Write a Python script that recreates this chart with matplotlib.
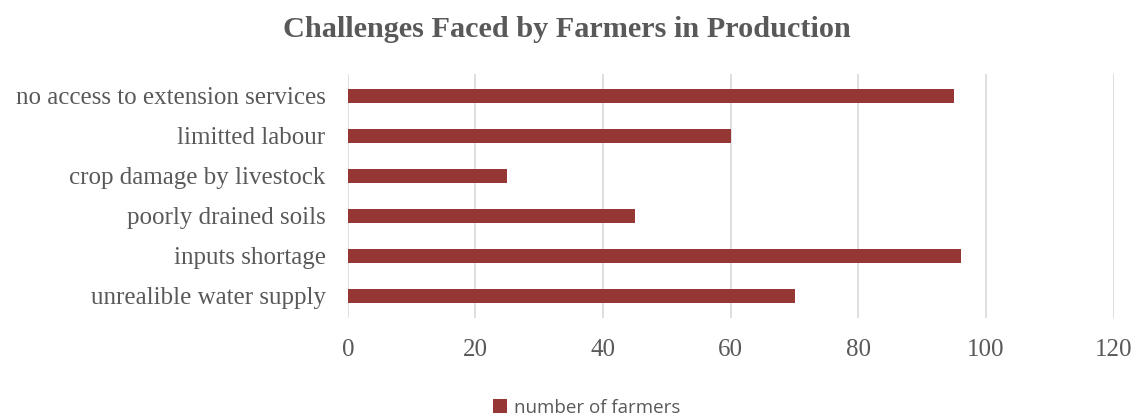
import matplotlib
matplotlib.use('Agg')
import matplotlib.pyplot as plt
import numpy as np

categories = ['no access to extension services', 'limitted labour', 'crop damage by livestock',
              'poorly drained soils', 'inputs shortage', 'unrealible water supply']
farmers = [95, 60, 25, 45, 96, 70]
x_ticks = [0, 20, 40, 60, 80, 100, 120]
series_name = 'number of farmers'

BAR_COLOR = '#953735'
TEXT_COLOR = '#595959'
GRID_COLOR = '#d9d9d9'

fig = plt.figure(figsize=(11.33, 4.15), dpi=100)
ax = fig.add_axes([0.307, 0.234, 0.676, 0.588])

y = np.arange(len(categories))[::-1]
ax.barh(y, farmers, height=0.34, color=BAR_COLOR, label=series_name, zorder=3)

ax.set_xlim(0, 120)
ax.set_ylim(-0.55, 5.55)
ax.set_xticks(x_ticks)
ax.set_xticklabels([str(t) for t in x_ticks], family='Liberation Serif', fontsize=18, color=TEXT_COLOR)
ax.set_yticks(y)
ax.set_yticklabels(categories, family='Liberation Serif', fontsize=18, color=TEXT_COLOR)
ax.tick_params(length=0)
ax.tick_params(axis='y', pad=16)
ax.tick_params(axis='x', pad=15)

ax.grid(axis='x', color=GRID_COLOR, lw=1.2, zorder=0)
for s in ax.spines.values():
    s.set_visible(False)

fig.suptitle('Challenges Faced by Farmers in Production', y=0.962, family='Liberation Serif',
             fontsize=21.8, fontweight='bold', color=TEXT_COLOR)

fig.legend(loc='center', bbox_to_anchor=(0.518, 0.018), frameon=False, handlelength=0.7,
           handleheight=0.7, handletextpad=0.4,
           prop={'family': 'Open Sans', 'size': 13.5}, labelcolor=TEXT_COLOR)

fig.savefig('out.png', dpi=100)
